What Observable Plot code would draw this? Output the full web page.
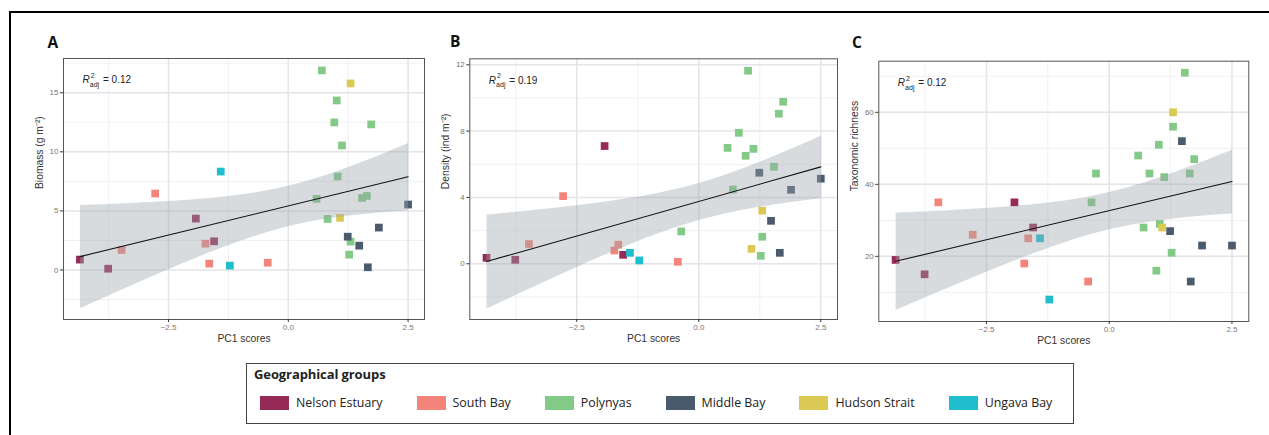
<!DOCTYPE html>
<html>
<head>
<meta charset="utf-8">
<script src="https://cdn.jsdelivr.net/npm/d3@7"></script>
<script src="https://cdn.jsdelivr.net/npm/@observablehq/plot@0.6"></script>
<style>
  body { margin: 0; background: #fff; }
  #fig { position: relative; width: 1269px; height: 435px; overflow: hidden; background: #fff; font-family: "Liberation Sans", Arial, sans-serif; }
  .outer { position: absolute; left: 9px; top: 11px; width: 1300px; height: 500px; border-top: 2px solid #000; border-left: 2px solid #000; box-sizing: border-box; }
  .tag { position: absolute; font-family: "Open Sans", sans-serif; font-weight: 700; font-size: 15.5px; line-height: 15px; color: #111; }
  .legend { position: absolute; left: 246px; top: 363px; width: 828px; height: 61px; box-sizing: border-box; border: 1px solid #444; font-family: "Open Sans", sans-serif; color: #222; }
  .ltitle { position: absolute; left: 7px; top: 1px; font-weight: 700; font-size: 13px; line-height: 18px; letter-spacing: -0.1px; }
  .lrow { position: absolute; left: 13px; top: 32px; height: 14px; display: flex; align-items: center; gap: 34px; }
  .litem { display: flex; align-items: center; gap: 7px; font-size: 12.4px; line-height: 14px; white-space: nowrap; }
  .sw { display: inline-block; width: 29px; height: 14px; }
</style>
</head>
<body>
<div id="fig"><div class="outer"></div></div>
<script>
// ---- data ----
const groups = ["Nelson Estuary", "South Bay", "Polynyas", "Middle Bay", "Hudson Strait", "Ungava Bay"];
const groupColors = ["#962a57", "#f3847c", "#83c987", "#4a5b6e", "#dbc954", "#1ebece"];

const siteGroup = [
  "Nelson Estuary", "Nelson Estuary", "Nelson Estuary", "Nelson Estuary",
  "South Bay", "South Bay", "South Bay", "South Bay", "South Bay",
  "Polynyas", "Polynyas", "Polynyas", "Polynyas", "Polynyas", "Polynyas", "Polynyas",
  "Polynyas", "Polynyas", "Polynyas", "Polynyas", "Polynyas", "Polynyas", "Polynyas",
  "Middle Bay", "Middle Bay", "Middle Bay", "Middle Bay", "Middle Bay",
  "Hudson Strait", "Hudson Strait",
  "Ungava Bay", "Ungava Bay"
];
const pc1 = [
  -4.35, -3.76, -1.93, -1.55,
  -3.48, -2.78, -1.73, -1.65, -0.43,
  -0.36, -0.27, 0.59, 0.70, 0.82, 0.96, 1.01, 1.03, 1.12, 1.27, 1.30, 1.54, 1.64, 1.73,
  1.24, 1.48, 1.66, 1.89, 2.50,
  1.08, 1.30,
  -1.41, -1.22
];
const biomass = [
  0.88, 0.11, 4.35, 2.43,
  1.69, 6.47, 2.23, 0.54, 0.62,
  null, null, 6.02, 16.89, 4.32, 12.49, 14.35, 7.91, 10.54, 1.30, 2.40, 6.10, 6.27, 12.32,
  2.82, 2.06, 0.23, 3.59, 5.54,
  4.41, 15.79,
  8.33, 0.37
];
const density = [
  0.36, 0.24, 7.10, 0.54,
  1.19, 4.08, 0.80, 1.15, 0.12,
  1.95, null, 6.99, 4.48, 7.90, 6.51, 11.64, null, 6.93, 0.48, 1.63, 5.85, 9.05, 9.77,
  5.49, 2.59, 0.66, 4.46, 5.13,
  0.90, 3.20,
  0.66, 0.20
];
const richness = [
  19, 15, 35, 28,
  35, 26, 18, 25, 13,
  35, 43, 48, 28, 43, 16, 51, 29, 42, 21, 56, 71, 43, 47,
  27, 52, 13, 23, 23,
  28, 60,
  25, 8
];

const panelTags = ["A", "B", "C"];
const r2Labels = ["= 0.12", "= 0.19", "= 0.12"];
const yTitles = ["Biomass (g m\u207B\u00B2)", "Density (ind m\u207B\u00B2)", "Taxonomic richness"];
const xTitle = "PC1 scores";
const xTicks = [-2.5, 0, 2.5];
const xMinor = [-3.75, -1.25, 1.25];
const yTicksA = [0, 5, 10, 15], yMinorA = [-2.5, 2.5, 7.5, 12.5, 17.5];
const yTicksB = [0, 4, 8, 12], yMinorB = [-2, 2, 6, 10];
const yTicksC = [20, 40, 60], yMinorC = [10, 30, 50, 70];

// ---- layout ----
const panels = [
  {values: biomass,  left: 0,   width: 430, mL: 63,   mR: 6,    mT: 58,   mB: 31, yDomain: [-4.19, 17.9], ticks: yTicksA, minor: yMinorA, tagX: 47.5, tagY: 34.5},
  {values: density,  left: 420, width: 425, mL: 49.3, mR: 8,    mT: 58.3, mB: 31, yDomain: [-3.36, 12.36], ticks: yTicksB, minor: yMinorB, tagX: 450, tagY: 34},
  {values: richness, left: 840, width: 429, mL: 38.3, mR: 20.7, mT: 60.7, mB: 29, yDomain: [1.9, 74.2], ticks: yTicksC, minor: yMinorC, tagX: 852, tagY: 35}
];

const fig = document.getElementById("fig");
const [xa, xb] = d3.extent(pc1);
const xpad = (xb - xa) * 0.05;

panels.forEach((cfg, k) => {
  const data = siteGroup.map((g, i) => ({group: g, x: pc1[i], y: cfg.values[i]})).filter(d => d.y != null);
  const svg = Plot.plot({
    width: cfg.width, height: 350,
    marginLeft: cfg.mL, marginRight: cfg.mR, marginTop: cfg.mT, marginBottom: cfg.mB,
    x: {domain: [xa - xpad, xb + xpad], label: null},
    y: {domain: cfg.yDomain, label: null},
    color: {type: "ordinal", domain: groups, range: groupColors},
    style: {background: "transparent", fontFamily: "Liberation Sans, Arial, sans-serif", overflow: "visible"},
    marks: [
      Plot.gridX(xMinor, {stroke: "#ededf0", strokeOpacity: 1, strokeWidth: 0.8}),
      Plot.gridY(cfg.minor, {stroke: "#ededf0", strokeOpacity: 1, strokeWidth: 0.8}),
      Plot.gridX(xTicks, {stroke: "#e4e4e9", strokeOpacity: 1, strokeWidth: 1.5}),
      Plot.gridY(cfg.ticks, {stroke: "#e4e4e9", strokeOpacity: 1, strokeWidth: 1.5}),
      Plot.dot(data, {x: "x", y: "y", fill: "group", symbol: "square", r: 4.35}),
      Plot.linearRegressionY(data, {x: "x", y: "y", stroke: "#111", strokeWidth: 1.1, fill: "#9ca4ab", fillOpacity: 0.4, ci: 0.95}),
      Plot.frame({stroke: "#555", strokeWidth: 1}),
      Plot.axisX(xTicks, {tickSize: 3, tickPadding: 2, fontSize: 8, stroke: "#333", fill: "#777", tickFormat: d3.format(".1f"), label: null}),
      Plot.axisY(cfg.ticks, {tickSize: 3, tickPadding: 2, fontSize: 8, stroke: "#333", fill: "#777", tickFormat: d3.format("d"), label: null}),
      Plot.text([xTitle], {frameAnchor: "bottom", dy: 22, fontSize: 10.3, fill: "#333"}),
      Plot.text([yTitles[k]], {frameAnchor: "left", dx: -24, rotate: -90, fontSize: 10.3, fill: "#333"}),
      Plot.text(["R"], {frameAnchor: "top-left", dx: 19, dy: 24.8, lineAnchor: "bottom", textAnchor: "start", fontStyle: "italic", fontSize: 10, fill: "#222"}),
      Plot.text(["2"], {frameAnchor: "top-left", dx: 27.3, dy: 19.3, lineAnchor: "bottom", textAnchor: "start", fontSize: 7, fill: "#222"}),
      Plot.text(["adj"], {frameAnchor: "top-left", dx: 26.3, dy: 28.4, lineAnchor: "bottom", textAnchor: "start", fontSize: 7, fill: "#222"}),
      Plot.text([r2Labels[k]], {frameAnchor: "top-left", dx: 39.5, dy: 24.8, lineAnchor: "bottom", textAnchor: "start", fontSize: 10, fill: "#222"})
    ]
  });
  svg.style.position = "absolute";
  svg.style.left = cfg.left + "px";
  svg.style.top = "0px";
  fig.appendChild(svg);

  const tag = document.createElement("div");
  tag.className = "tag";
  tag.style.left = cfg.tagX + "px";
  tag.style.top = cfg.tagY + "px";
  tag.textContent = panelTags[k];
  fig.appendChild(tag);
});

// ---- legend ----
const legend = d3.select(fig).append("div").attr("class", "legend");
legend.append("div").attr("class", "ltitle").text("Geographical groups");
const row = legend.append("div").attr("class", "lrow");
groups.forEach((g, i) => {
  const it = row.append("div").attr("class", "litem");
  it.append("span").attr("class", "sw").style("background", groupColors[i]);
  it.append("span").text(g);
});
</script>
</body>
</html>
